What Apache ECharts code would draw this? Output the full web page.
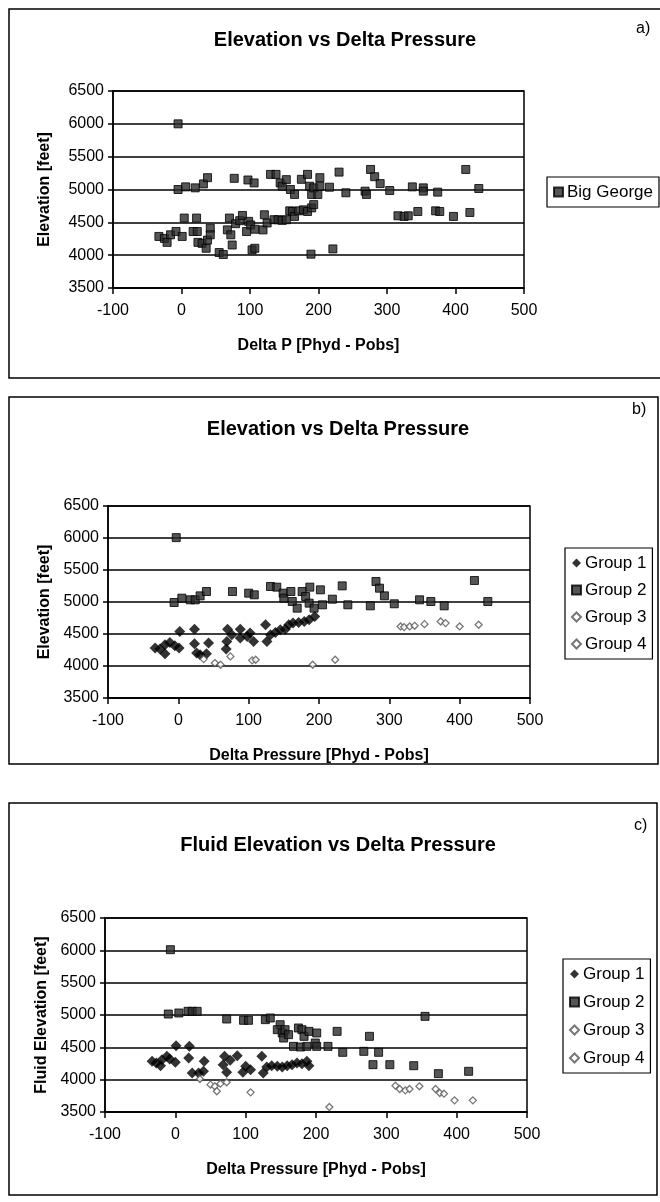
<!DOCTYPE html>
<html>
<head>
<meta charset="utf-8">
<script src="https://cdn.jsdelivr.net/npm/echarts@6/dist/echarts.min.js"></script>
<style>
  html, body { margin: 0; padding: 0; background: #fff; }
  #chart { width: 660px; height: 1202px; }
</style>
</head>
<body>
<div id="chart"></div>
<script>
// ---- data: [delta pressure (Phyd - Pobs), elevation in feet] ----
var bigGeorge = [
  [-5,6000],[-5,5000],[6,5040],[20,5025],[32,5085],[38,5180],[77,5170],[97,5145],[106,5100],
  [130,5230],[138,5230],[144,5100],[147,5050],[153,5150],[159,5000],[165,4925],[175,5155],
  [184,5230],[187,5050],[190,4925],[193,5025],[199,4925],[202,5180],[202,5050],[216,5035],
  [230,5265],[240,4950],[268,4975],[270,4925],[276,5305],[282,5195],[290,5090],[304,4985],
  [316,4600],[325,4590],[331,4600],[337,5040],[345,4665],[353,5025],[353,4975],[374,4960],
  [371,4675],[377,4665],[397,4590],[415,5305],[421,4650],[434,5015],
  [-33,4285],[-25,4255],[-21,4195],[-16,4310],[-8,4360],[1,4285],[4,4565],[17,4360],
  [22,4565],[23,4360],[24,4195],[30,4180],[36,4105],[38,4230],[42,4410],[42,4310],
  [55,4040],[61,4010],[67,4385],[70,4565],[72,4310],[74,4155],[79,4480],[85,4525],
  [89,4605],[95,4360],[98,4515],[101,4460],[103,4080],[107,4105],[107,4395],[119,4385],
  [121,4615],[125,4490],[135,4540],[141,4540],[147,4530],[153,4540],[158,4675],[162,4665],
  [165,4590],[171,4675],[178,4690],[184,4665],[190,4720],[193,4770],[189,4015],[221,4095]
];

// Elevation, split into four groups
var elevGroup1 = [
  [-33,4280],[-26,4264],[-19,4192],[-19,4332],[-12,4368],[-5,4316],[2,4540],[1,4280],
  [23,4576],[23,4348],[26,4202],[31,4176],[40,4192],[43,4358],[69,4384],[70,4576],
  [68,4264],[76,4488],[88,4576],[88,4436],[98,4462],[102,4514],[107,4384],[124,4644],
  [126,4384],[131,4488],[138,4524],[145,4566],[152,4576],[157,4644],[163,4670],[171,4680],
  [179,4696],[186,4722],[194,4774]
];
var elevGroup2 = [
  [-3,6006],[-6,4992],[5,5060],[17,5034],[24,5034],[31,5096],[40,5164],[77,5164],
  [100,5138],[108,5112],[131,5242],[140,5232],[149,5138],[150,5060],[160,5164],[162,5008],
  [169,4904],[176,5164],[181,5086],[187,5232],[186,4982],[193,4904],[202,5190],[205,4956],
  [219,5044],[233,5252],[241,4956],[273,4940],[281,5320],[286,5216],[293,5096],[307,4972],
  [343,5034],[359,5008],[378,4940],[421,5336],[440,5008]
];
var elevGroup3 = [
  [316,4618],[321,4608],[329,4618],[336,4628],[350,4654],[373,4696],[380,4670],[400,4618],[427,4644]
];
var elevGroup4 = [
  [36,4108],[52,4046],[60,4020],[74,4150],[105,4088],[110,4098],[191,4020],[223,4098]
];

// Fluid elevation, same four groups
var fluidGroup1 = [
  [-33,4283],[-27,4258],[-21,4216],[-19,4309],[-12,4361],[-8,4320],[0,4268],[1,4526],
  [20,4515],[19,4335],[24,4103],[33,4103],[41,4283],[40,4129],[70,4361],[73,4113],
  [68,4232],[78,4299],[88,4371],[96,4113],[100,4206],[107,4155],[123,4361],[125,4103],
  [130,4196],[137,4216],[145,4206],[152,4196],[159,4216],[166,4232],[173,4258],[180,4247],
  [187,4283],[190,4216]
];
var fluidGroup2 = [
  [-7,6010],[-10,5015],[5,5031],[18,5057],[24,5057],[31,5057],[73,4938],[97,4918],
  [104,4918],[128,4928],[135,4954],[149,4850],[145,4773],[152,4722],[156,4773],[154,4644],
  [161,4696],[175,4799],[180,4773],[183,4670],[190,4747],[201,4722],[168,4515],[178,4505],
  [187,4515],[199,4567],[201,4515],[217,4515],[230,4747],[238,4423],[268,4438],[276,4670],
  [289,4423],[281,4232],[305,4232],[339,4216],[355,4979],[374,4093],[417,4129]
];
var fluidGroup3 = [
  [313,3907],[319,3856],[327,3835],[333,3856],[347,3897],[370,3856],[376,3794],[382,3783],[397,3680],[423,3680]
];
var fluidGroup4 = [
  [35,4010],[50,3923],[56,3897],[59,3820],[64,3938],[73,3959],[107,3804],[219,3577]
];

var xTicks = { min: -100, max: 500, step: 100 };
var yTicks = { min: 3500, max: 6500, step: 500 };

var FONT = '"Liberation Sans", Arial, sans-serif';

function xAxisFor(gridIndex, name, nameGap) {
  return {
    gridIndex: gridIndex, type: 'value',
    min: xTicks.min, max: xTicks.max, interval: xTicks.step,
    name: name, nameLocation: 'middle', nameGap: nameGap,
    nameTextStyle: { fontFamily: FONT, fontWeight: 'bold', fontSize: 16, color: '#000' },
    axisLine: { show: true, onZero: false, lineStyle: { color: '#000', width: 1.5 } },
    axisTick: { show: true, inside: false, length: 6, lineStyle: { color: '#000', width: 1.5 } },
    axisLabel: { fontFamily: FONT, fontSize: 16, color: '#000', margin: 15 },
    splitLine: { show: false }
  };
}
function yAxisFor(gridIndex, name, nameGap) {
  return {
    gridIndex: gridIndex, type: 'value',
    min: yTicks.min, max: yTicks.max, interval: yTicks.step,
    name: name, nameLocation: 'middle', nameGap: nameGap,
    nameTextStyle: { fontFamily: FONT, fontWeight: 'bold', fontSize: 16, color: '#000' },
    axisLine: { show: true, onZero: false, lineStyle: { color: '#000', width: 1.5 } },
    axisTick: { show: true, inside: false, length: 5, lineStyle: { color: '#000', width: 1.5 } },
    axisLabel: { fontFamily: FONT, fontSize: 16, color: '#000', margin: 9,
                 formatter: function (v) { return String(v); } },
    splitLine: { show: true, lineStyle: { color: '#000', width: 1.6 } }
  };
}

var solidDiamond = { color: '#000', borderColor: '#000', borderWidth: 0 };
var darkSquare = { color: '#2b2b2b', borderColor: '#000', borderWidth: 1 };
var openDiamond = { color: '#fff', borderColor: '#555', borderWidth: 1.3 };

function scatter(name, data, gi, symbol, size, style) {
  return {
    name: name, type: 'scatter', xAxisIndex: gi, yAxisIndex: gi,
    data: data, symbol: symbol, symbolSize: size, itemStyle: style,
    animation: false, emphasis: { disabled: true }
  };
}

function panelTitle(text, left, top) {
  return {
    text: text, left: left, top: top, textAlign: 'center',
    textStyle: { fontFamily: FONT, fontWeight: 'bold', fontSize: 20, color: '#000' }
  };
}

function legendFor(names, left, top, gap) {
  return {
    orient: 'vertical', left: left, top: top, data: names,
    itemWidth: 9, itemHeight: 9, itemGap: gap,
    padding: [6, 6, 6, 6],
    borderColor: '#000', borderWidth: 1.2, backgroundColor: '#fff',
    selectedMode: false,
    textStyle: { fontFamily: FONT, fontSize: 17, lineHeight: 18, color: '#000', padding: [0, 0, 0, -1] }
  };
}

function frame(x, y, w, h) {
  return { type: 'rect', shape: { x: x, y: y, width: w, height: h }, silent: true, z: -10,
           style: { fill: 'none', stroke: '#000', lineWidth: 1.5 } };
}
function tag(text, x, y) {
  return { type: 'text', x: x, y: y, silent: true,
           style: { text: text, font: '16px ' + FONT, fill: '#000' } };
}

var chart = echarts.init(document.getElementById('chart'), null, { renderer: 'canvas' });
chart.setOption({
  backgroundColor: '#fff',
  animation: false,
  title: [
    panelTitle('Elevation vs Delta Pressure', 340, 25),
    panelTitle('Elevation vs Delta Pressure', 333, 414),
    panelTitle('Fluid Elevation vs Delta Pressure', 333, 830)
  ],
  grid: [
    { left: 113, top: 91, width: 411, height: 197, show: true, borderColor: '#000', borderWidth: 1.5, backgroundColor: 'transparent' },
    { left: 108, top: 506, width: 422, height: 192, show: true, borderColor: '#000', borderWidth: 1.5, backgroundColor: 'transparent' },
    { left: 105, top: 918, width: 422, height: 194, show: true, borderColor: '#000', borderWidth: 1.5, backgroundColor: 'transparent' }
  ],
  xAxis: [
    xAxisFor(0, 'Delta P [Phyd - Pobs]', 50),
    xAxisFor(1, 'Delta Pressure [Phyd - Pobs]', 50),
    xAxisFor(2, 'Delta Pressure [Phyd - Pobs]', 50)
  ],
  yAxis: [
    yAxisFor(0, 'Elevation [feet]', 60),
    yAxisFor(1, 'Elevation [feet]', 55),
    yAxisFor(2, 'Fluid Elevation [feet]', 55)
  ],
  legend: [
    legendFor(['Big George'], 547, 177, 8),
    legendFor(['Group 1', 'Group 2', 'Group 3', 'Group 4'], 565, 548, 9),
    legendFor(['Group 1', 'Group 2', 'Group 3', 'Group 4'], 563, 959, 10)
  ],
  graphic: [
    frame(9, 9, 670, 369),
    frame(9, 397, 649, 367),
    frame(9, 803, 648, 392),
    tag('a)', 636, 21),
    tag('b)', 632, 402),
    tag('c)', 634, 818)
  ],
  series: [
    scatter('Big George', bigGeorge, 0, 'rect', 8, darkSquare),
    scatter('Group 1', elevGroup1, 1, 'diamond', [11, 11], solidDiamond),
    scatter('Group 2', elevGroup2, 1, 'rect', 8, darkSquare),
    scatter('Group 3', elevGroup3, 1, 'diamond', [7, 7], openDiamond),
    scatter('Group 4', elevGroup4, 1, 'diamond', [7, 7], openDiamond),
    scatter('Group 1', fluidGroup1, 2, 'diamond', [11, 11], solidDiamond),
    scatter('Group 2', fluidGroup2, 2, 'rect', 8, darkSquare),
    scatter('Group 3', fluidGroup3, 2, 'diamond', [7, 7], openDiamond),
    scatter('Group 4', fluidGroup4, 2, 'diamond', [7, 7], openDiamond)
  ]
});
</script>
</body>
</html>
